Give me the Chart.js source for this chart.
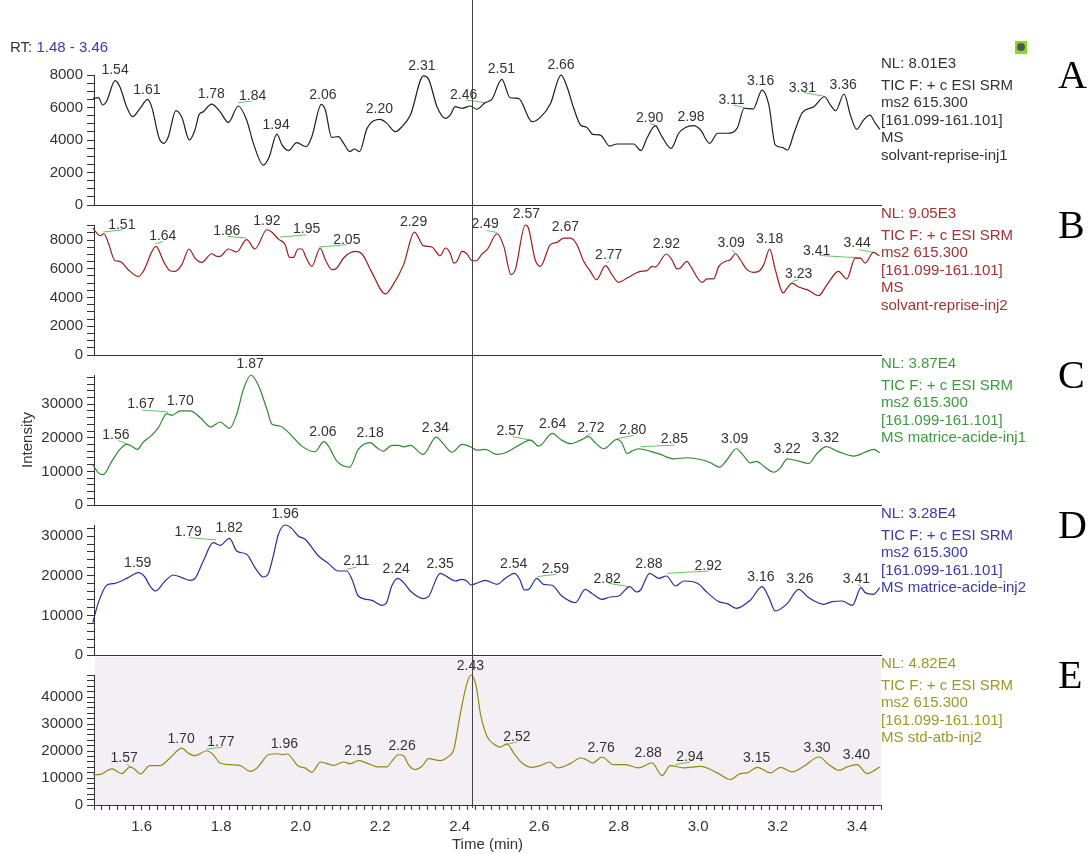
<!DOCTYPE html>
<html>
<head>
<meta charset="utf-8">
<script src="https://cdn.jsdelivr.net/npm/chart.js@4.4.0/dist/chart.umd.min.js"></script>
<style>
  body { margin: 0; background: #fff; font-family: 'Liberation Sans', Arial, sans-serif; }
  #page { position: relative; width: 1091px; height: 854px; overflow: hidden; background: #fff; }
  canvas { position: absolute; left: 0; }
  .txt { position: absolute; font-size: 15px; line-height: 18px; white-space: nowrap; }
  .tag { position: absolute; font-family: 'Liberation Serif', 'Times New Roman', serif; font-size: 40px; line-height: 40px; color: #000; }
  #icon { position: absolute; left: 1015px; top: 41px; width: 12px; height: 13px; background: #84dc1c; }
  #icon div { position: absolute; left: 2px; top: 2px; width: 8px; height: 8px; border-radius: 50%; background: #555; }
</style>
</head>
<body>
<div id="page">
  <canvas id="cA" width="1091" height="216" style="top:0px"></canvas>
  <canvas id="cB" width="1091" height="160" style="top:206px"></canvas>
  <canvas id="cC" width="1091" height="160" style="top:356px"></canvas>
  <canvas id="cD" width="1091" height="160" style="top:506px"></canvas>
  <canvas id="cE" width="1091" height="198" style="top:656px"></canvas>
  <div class="txt" style="left:10px;top:38px;color:#333">RT: <span style="color:#3a3ab0">1.48 - 3.46</span></div>
  <div id="icon"><div></div></div>
</div>
<script>
// retention time window and cursor
const xMin = 1.48
const xMax = 3.46
const cursorRt = 2.43
const xTickLabels = ['1.6', '1.8', '2.0', '2.2', '2.4', '2.6', '2.8', '3.0', '3.2', '3.4']

// A - solvant-reprise-inj1
const rtA = [1.478, 1.491, 1.502, 1.512, 1.533, 1.545, 1.562, 1.577, 1.596, 1.615, 1.625, 1.644, 1.656, 1.667, 1.686, 1.701, 1.720, 1.734, 1.744, 1.755, 1.776, 1.797, 1.818, 1.843, 1.864, 1.881, 1.906, 1.921, 1.940, 1.953, 1.969, 1.990, 2.014, 2.028, 2.052, 2.062, 2.078, 2.095, 2.108, 2.124, 2.135, 2.148, 2.167, 2.200, 2.217, 2.238, 2.255, 2.276, 2.309, 2.322, 2.343, 2.364, 2.376, 2.389, 2.406, 2.427, 2.443, 2.464, 2.481, 2.506, 2.527, 2.548, 2.582, 2.603, 2.628, 2.655, 2.670, 2.687, 2.704, 2.720, 2.735, 2.754, 2.777, 2.796, 2.814, 2.838, 2.856, 2.871, 2.892, 2.909, 2.932, 2.951, 2.968, 2.989, 3.006, 3.029, 3.049, 3.073, 3.098, 3.116, 3.138, 3.161, 3.178, 3.194, 3.211, 3.225, 3.241, 3.262, 3.291, 3.318, 3.333, 3.346, 3.367, 3.383, 3.399, 3.415, 3.432, 3.446, 3.457]
const intA = [6570, 6610, 6160, 6410, 7660, 7290, 6060, 5440, 5960, 6510, 6060, 4110, 3800, 4210, 5810, 5400, 4000, 4620, 5540, 5750, 6220, 5750, 5090, 6100, 5240, 3800, 2460, 2980, 4370, 3700, 3350, 3840, 3590, 4210, 6200, 5850, 4170, 4210, 3800, 3290, 3450, 3290, 4720, 5280, 5030, 4520, 4830, 5540, 7950, 7740, 6060, 5340, 5540, 6060, 5960, 6100, 5900, 6300, 6510, 7740, 6610, 6570, 5130, 5400, 6220, 8000, 7290, 5960, 4930, 4780, 4350, 4310, 3630, 3760, 3760, 3760, 3350, 4110, 4870, 4210, 3490, 4420, 4780, 4890, 4620, 3800, 4420, 4420, 4720, 5960, 5910, 7080, 6160, 3700, 3550, 3390, 4420, 5690, 6060, 6670, 6160, 5810, 6840, 5540, 4660, 5200, 5540, 5030, 4660]
const peaksA = [['1.54', 1.533, 8360], ['1.61', 1.613, 7130], ['1.78', 1.775, 6880], ['1.84', 1.879, 6760], ['1.94', 1.938, 4990], ['2.06', 2.056, 6820], ['2.20', 2.198, 5960], ['2.31', 2.305, 8620], ['2.46', 2.410, 6840], ['2.51', 2.505, 8420], ['2.66', 2.655, 8670], ['2.90', 2.878, 5400], ['2.98', 2.982, 5480], ['3.11', 3.084, 6530], ['3.16', 3.157, 7700], ['3.31', 3.262, 7250], ['3.36', 3.365, 7450]]
const leadA = [[1.843, 6300, 1.878, 6410], [2.417, 6470, 2.464, 6300], [2.878, 5030, 2.899, 4870], [3.090, 6160, 3.117, 5990], [3.266, 6920, 3.315, 6710]]
const infoA = ['NL: 8.01E3', 'TIC F: + c ESI SRM', 'ms2 615.300', '[161.099-161.101]', 'MS', 'solvant-reprise-inj1']

// B - solvant-reprise-inj2
const rtB = [1.477, 1.487, 1.495, 1.505, 1.516, 1.533, 1.545, 1.566, 1.592, 1.604, 1.636, 1.655, 1.671, 1.684, 1.701, 1.719, 1.734, 1.751, 1.776, 1.789, 1.797, 1.818, 1.839, 1.864, 1.885, 1.915, 1.927, 1.944, 1.961, 1.972, 1.982, 1.993, 2.003, 2.014, 2.028, 2.049, 2.062, 2.079, 2.091, 2.108, 2.137, 2.154, 2.179, 2.213, 2.230, 2.259, 2.286, 2.309, 2.330, 2.351, 2.364, 2.376, 2.385, 2.393, 2.406, 2.418, 2.431, 2.442, 2.456, 2.469, 2.494, 2.511, 2.529, 2.540, 2.565, 2.573, 2.590, 2.603, 2.628, 2.645, 2.662, 2.679, 2.695, 2.712, 2.729, 2.744, 2.767, 2.783, 2.800, 2.821, 2.855, 2.871, 2.884, 2.892, 2.920, 2.934, 2.947, 2.955, 2.972, 2.980, 3.010, 3.022, 3.039, 3.052, 3.069, 3.081, 3.094, 3.106, 3.123, 3.138, 3.152, 3.165, 3.180, 3.194, 3.214, 3.224, 3.236, 3.253, 3.278, 3.303, 3.324, 3.353, 3.374, 3.395, 3.408, 3.420, 3.441, 3.456]
const intB = [8840, 8490, 8300, 8440, 7800, 6560, 6520, 5940, 5470, 5820, 7560, 6520, 5870, 5820, 6290, 7380, 6750, 6450, 7050, 6860, 6860, 7380, 7170, 8030, 7380, 8720, 8560, 8070, 7680, 6790, 6790, 7380, 7380, 6750, 6170, 7450, 6630, 5940, 6060, 6750, 7210, 7050, 5750, 4250, 4780, 6290, 8560, 7610, 7520, 6910, 7450, 7100, 6400, 6520, 7210, 7050, 6560, 6560, 7030, 7330, 8440, 7560, 5590, 5940, 9050, 8840, 6630, 6170, 7680, 7840, 8140, 8140, 7680, 6520, 5820, 5240, 6220, 5590, 5050, 5360, 5820, 5870, 6170, 6120, 7030, 6630, 5990, 6060, 6520, 6220, 5050, 5300, 5300, 6170, 6520, 6630, 7050, 6630, 5940, 5750, 5820, 6290, 7380, 5940, 4320, 4660, 5010, 4730, 4500, 4130, 4890, 5820, 5290, 6750, 6750, 6400, 7140, 6910]
const peaksB = [['1.51', 1.550, 9140], ['1.64', 1.653, 8370], ['1.86', 1.814, 8720], ['1.92', 1.915, 9420], ['1.95', 2.015, 8840], ['2.05', 2.116, 8090], ['2.29', 2.284, 9300], ['2.49', 2.464, 9190], ['2.57', 2.568, 9880], ['2.67', 2.666, 8950], ['2.77', 2.775, 7030], ['2.92', 2.920, 7800], ['3.09', 3.083, 7870], ['3.18', 3.180, 8140], ['3.23', 3.253, 5710], ['3.41', 3.298, 7330], ['3.44', 3.400, 7870]]
const leadB = [[1.503, 8560, 1.552, 8720], [1.634, 7730, 1.654, 7910], [1.816, 8260, 1.864, 8140], [1.948, 8210, 2.015, 8370], [2.047, 7520, 2.116, 7680], [2.469, 8670, 2.494, 8530], [2.769, 6400, 2.777, 6560], [3.085, 7330, 3.094, 7100], [3.237, 5120, 3.253, 5240], [3.306, 6930, 3.408, 6750], [3.404, 7330, 3.442, 7140]]
const infoB = ['NL: 9.05E3', 'TIC F: + c ESI SRM', 'ms2 615.300', '[161.099-161.101]', 'MS', 'solvant-reprise-inj2']

// C - matrice-acide-inj1
const rtC = [1.477, 1.491, 1.503, 1.525, 1.545, 1.562, 1.572, 1.589, 1.604, 1.625, 1.642, 1.663, 1.676, 1.697, 1.722, 1.747, 1.774, 1.797, 1.821, 1.839, 1.856, 1.875, 1.894, 1.915, 1.928, 1.948, 1.978, 2.003, 2.036, 2.058, 2.070, 2.091, 2.123, 2.145, 2.175, 2.192, 2.208, 2.229, 2.246, 2.259, 2.276, 2.308, 2.341, 2.360, 2.381, 2.406, 2.427, 2.443, 2.464, 2.494, 2.515, 2.545, 2.578, 2.599, 2.633, 2.654, 2.679, 2.708, 2.724, 2.741, 2.762, 2.796, 2.808, 2.821, 2.833, 2.850, 2.879, 2.905, 2.938, 2.972, 3.006, 3.031, 3.054, 3.073, 3.096, 3.115, 3.131, 3.147, 3.165, 3.190, 3.207, 3.224, 3.253, 3.278, 3.299, 3.323, 3.350, 3.392, 3.417, 3.442, 3.457]
const intC = [12050, 9570, 9060, 13040, 16540, 18040, 17700, 16540, 18720, 20730, 23030, 27220, 26710, 28000, 28000, 26020, 23210, 24710, 22820, 27010, 34490, 38700, 35470, 28500, 24020, 23510, 20520, 17530, 15850, 18840, 17530, 13040, 11250, 16540, 18540, 17050, 16030, 17740, 17740, 17300, 17740, 15050, 20220, 18040, 15730, 18040, 17350, 16330, 16540, 15050, 15550, 17530, 19320, 17530, 21330, 19530, 18250, 19530, 20340, 18540, 16750, 19530, 18540, 15250, 16030, 16750, 16030, 15050, 13760, 14060, 13550, 12560, 11250, 13550, 16750, 14540, 12560, 13000, 11550, 9750, 11070, 13760, 13040, 12350, 15340, 17350, 16030, 14540, 15550, 16540, 15550]
const peaksC = [['1.56', 1.535, 21030], ['1.67', 1.598, 30300], ['1.70', 1.697, 31290], ['1.87', 1.873, 42260], ['2.06', 2.056, 22010], ['2.18', 2.175, 21720], ['2.34', 2.339, 23330], ['2.57', 2.527, 22220], ['2.64', 2.634, 24530], ['2.72', 2.730, 23210], ['2.80', 2.835, 22730], ['2.85', 2.940, 19830], ['3.09', 3.092, 20040], ['3.22', 3.224, 16840], ['3.32', 3.320, 20340]]
const leadC = [[1.541, 19230, 1.566, 18040], [1.600, 28300, 1.667, 27700], [2.534, 20340, 2.578, 19320], [2.716, 20340, 2.731, 21330], [2.796, 19740, 2.838, 20730], [2.855, 17350, 2.941, 17830]]
const infoC = ['NL: 3.87E4', 'TIC F: + c ESI SRM', 'ms2 615.300', '[161.099-161.101]', 'MS matrice-acide-inj1']

// D - matrice-acide-inj2
const rtD = [1.477, 1.491, 1.512, 1.533, 1.566, 1.592, 1.608, 1.621, 1.635, 1.659, 1.680, 1.701, 1.722, 1.734, 1.755, 1.780, 1.797, 1.821, 1.839, 1.864, 1.885, 1.906, 1.919, 1.931, 1.944, 1.961, 1.978, 1.994, 2.011, 2.045, 2.070, 2.095, 2.116, 2.129, 2.145, 2.179, 2.204, 2.215, 2.229, 2.244, 2.259, 2.276, 2.309, 2.322, 2.351, 2.368, 2.389, 2.406, 2.418, 2.428, 2.443, 2.464, 2.494, 2.515, 2.538, 2.551, 2.563, 2.573, 2.594, 2.611, 2.632, 2.657, 2.691, 2.716, 2.733, 2.758, 2.779, 2.800, 2.828, 2.845, 2.855, 2.878, 2.901, 2.920, 2.943, 2.964, 2.998, 3.023, 3.052, 3.073, 3.096, 3.131, 3.161, 3.178, 3.194, 3.224, 3.253, 3.278, 3.316, 3.337, 3.362, 3.388, 3.410, 3.420, 3.441, 3.457]
const intD = [8180, 13220, 17590, 18090, 19530, 20790, 19680, 17410, 16150, 18670, 20180, 19530, 18850, 19300, 23720, 28360, 27680, 29440, 26240, 25410, 22050, 19680, 20610, 24980, 30450, 32800, 31890, 30020, 29190, 24980, 23060, 21190, 21190, 19100, 14890, 13800, 12540, 13000, 17410, 19350, 18270, 16150, 14230, 14800, 20610, 19780, 18670, 19100, 18670, 17660, 18090, 18850, 17840, 19350, 20610, 19100, 16400, 16500, 19350, 17840, 17590, 14890, 13220, 16580, 15490, 14050, 14630, 14890, 17260, 15900, 16400, 20610, 19350, 19930, 17410, 18670, 18090, 15740, 13470, 12970, 11780, 13800, 17260, 14480, 11100, 12970, 16580, 14480, 12790, 13470, 13620, 12540, 17010, 15740, 15320, 17010]
const peaksD = [['1.59', 1.590, 23460], ['1.79', 1.717, 31290], ['1.82', 1.820, 32290], ['1.96', 1.961, 35750], ['2.11', 2.140, 23890], ['2.24', 2.240, 22050], ['2.35', 2.351, 23140], ['2.54', 2.536, 23310], ['2.59', 2.641, 22050], ['2.82', 2.771, 19530], ['2.88', 2.876, 23310], ['2.92', 3.025, 22630], ['3.16', 3.158, 19930], ['3.26', 3.256, 19350], ['3.41', 3.398, 19530]]
const leadD = [[1.720, 29620, 1.787, 29020], [2.116, 21620, 2.141, 22200], [2.595, 19780, 2.643, 20360], [2.775, 18090, 2.825, 17260], [2.922, 20610, 3.027, 21190], [3.402, 17840, 3.410, 17260]]
const infoD = ['NL: 3.28E4', 'TIC F: + c ESI SRM', 'ms2 615.300', '[161.099-161.101]', 'MS matrice-acide-inj2']

// E - std-atb-inj2
const rtE = [1.477, 1.493, 1.525, 1.550, 1.571, 1.583, 1.596, 1.621, 1.646, 1.671, 1.701, 1.717, 1.734, 1.764, 1.780, 1.797, 1.822, 1.848, 1.873, 1.890, 1.919, 1.940, 1.957, 1.965, 1.995, 2.011, 2.028, 2.050, 2.083, 2.108, 2.124, 2.146, 2.175, 2.196, 2.217, 2.229, 2.246, 2.259, 2.271, 2.288, 2.305, 2.322, 2.351, 2.372, 2.385, 2.401, 2.418, 2.429, 2.442, 2.452, 2.469, 2.485, 2.502, 2.519, 2.536, 2.557, 2.582, 2.603, 2.626, 2.646, 2.678, 2.704, 2.716, 2.735, 2.758, 2.787, 2.817, 2.850, 2.884, 2.909, 2.930, 2.964, 3.006, 3.048, 3.081, 3.106, 3.123, 3.149, 3.182, 3.207, 3.236, 3.266, 3.304, 3.329, 3.354, 3.375, 3.400, 3.425, 3.441, 3.457]
const intE = [11290, 11290, 13380, 11650, 14120, 13200, 11540, 14590, 14590, 17420, 21100, 19260, 18270, 20110, 18640, 15590, 14960, 14590, 12500, 13750, 18640, 19010, 18640, 19010, 14340, 13750, 12130, 15950, 14700, 15950, 15330, 16430, 15000, 14120, 14120, 16170, 18640, 18270, 14960, 13120, 14340, 17170, 16430, 18010, 20480, 33340, 45000, 48200, 43740, 34000, 25360, 22680, 21470, 22680, 19260, 15590, 13970, 14590, 15950, 13750, 15330, 17420, 17000, 15590, 17790, 14960, 14960, 13750, 15590, 10920, 14590, 13750, 14340, 11910, 9450, 11650, 11910, 13970, 11910, 13970, 12280, 14340, 17790, 14960, 12870, 14120, 14960, 11650, 12600, 14120]
const peaksE = [['1.57', 1.556, 17790], ['1.70', 1.699, 25000], ['1.77', 1.799, 23890], ['1.96', 1.959, 22940], ['2.15', 2.144, 20480], ['2.26', 2.255, 22310], ['2.43', 2.427, 52090], ['2.52', 2.544, 25730], ['2.76', 2.756, 21690], ['2.88', 2.874, 19630], ['2.94', 2.979, 18270], ['3.15', 3.147, 17790], ['3.30', 3.299, 21690], ['3.40', 3.398, 18900]]
const leadE = [[1.562, 15220, 1.571, 14120], [1.764, 20730, 1.802, 21470], [2.515, 22310, 2.544, 23420], [2.943, 14960, 2.980, 15950]]
const infoE = ['NL: 4.82E4', 'TIC F: + c ESI SRM', 'ms2 615.300', '[161.099-161.101]', 'MS std-atb-inj2']

Chart.defaults.font.family = "'Liberation Sans', Arial, sans-serif"
Chart.defaults.font.size = 15
Chart.defaults.color = '#333'

// canvases overlap by 10px so the "0" tick label of each panel is not cut off
const panels = [
  { id: 'cA', tag: 'A', rt: rtA, ints: intA, peaks: peaksA, leads: leadA, info: infoA, max: 8010, minor: 500, major: 2000, line: '#1e1e1e', text: '#333333', canvasTop: 0, top: 75 },
  { id: 'cB', tag: 'B', rt: rtB, ints: intB, peaks: peaksB, leads: leadB, info: infoB, max: 9050, minor: 500, major: 2000, line: '#9b1c1c', text: '#a33232', canvasTop: 206, top: 225 },
  { id: 'cC', tag: 'C', rt: rtC, ints: intC, peaks: peaksC, leads: leadC, info: infoC, max: 38700, minor: 2000, major: 10000, line: '#2b8a2b', text: '#3c9c3c', canvasTop: 356, top: 375, ytitle: 'Intensity' },
  { id: 'cD', tag: 'D', rt: rtD, ints: intD, peaks: peaksD, leads: leadD, info: infoD, max: 32800, minor: 2000, major: 10000, line: '#2c2c9a', text: '#3a3aa2', canvasTop: 506, top: 525 },
  { id: 'cE', tag: 'E', rt: rtE, ints: intE, peaks: peaksE, leads: leadE, info: infoE, max: 48200, minor: 2000, major: 10000, line: '#8c8c14', text: '#9a9a2a', canvasTop: 656, top: 675, last: true },
]

function leaderPoints(leads) {
  const pts = []
  leads.forEach(l => {
    pts.push({ x: l[0], y: l[1] }, { x: l[2], y: l[3] }, { x: l[2], y: null })
  })
  return pts
}

// peak labels, cursor line and the shaded last panel
function decoPlugin(p) {
  return {
    id: 'deco',
    beforeDraw(chart) {
      if (!p.last) return
      const a = chart.chartArea
      chart.ctx.save()
      chart.ctx.fillStyle = '#f4eff4'
      chart.ctx.fillRect(a.left + 1, 1, a.right - a.left - 1, a.bottom - 1)
      chart.ctx.restore()
    },
    afterDatasetsDraw(chart) {
      const ctx = chart.ctx
      const xs = chart.scales.x
      const ys = chart.scales.y
      ctx.save()
      ctx.font = "14px 'Liberation Sans', Arial, sans-serif"
      ctx.fillStyle = '#333'
      ctx.textAlign = 'center'
      ctx.textBaseline = 'alphabetic'
      p.peaks.forEach(pk => {
        ctx.fillText(pk[0], xs.getPixelForValue(pk[1]), ys.getPixelForValue(pk[2]) + 5)
      })
      ctx.restore()
    },
    afterDraw(chart) {
      const ctx = chart.ctx
      const x = Math.round(chart.scales.x.getPixelForValue(cursorRt)) + 0.5
      const yEnd = p.last ? chart.chartArea.bottom + 3 : chart.chartArea.bottom + 1
      ctx.save()
      ctx.strokeStyle = '#444'
      ctx.lineWidth = 1
      ctx.beginPath()
      ctx.moveTo(x, 0)
      ctx.lineTo(x, yEnd)
      ctx.stroke()
      ctx.restore()
    },
  }
}

function makeChart(p) {
  const el = document.getElementById(p.id)
  const yTicks = []
  for (let v = 0; v <= p.max; v += p.minor) yTicks.push(v)
  const xTicks = []
  for (let k = 74; k <= 173; k++) xTicks.push(k / 50)

  const xScale = {
    type: 'linear',
    min: xMin,
    max: xMax,
    border: { color: '#333', width: 1 },
    afterFit: s => {
      s.height = p.last ? 49 : 1
      s.paddingLeft = 0
      s.paddingRight = 0
    },
  }
  if (p.last) {
    xScale.afterBuildTicks = s => { s.ticks = xTicks.map(v => ({ value: v })) }
    xScale.ticks = {
      autoSkip: false, maxRotation: 0, minRotation: 0, padding: 8, color: '#333',
      callback: v => {
        const k = Math.round(v * 50)
        return k % 10 === 0 ? xTickLabels[(k - 80) / 10] : ''
      },
    }
    xScale.grid = { drawOnChartArea: false, drawTicks: true, tickLength: 5, tickColor: '#333' }
    xScale.title = { display: true, text: 'Time (min)', color: '#333', padding: { top: 0, bottom: 0 } }
  } else {
    xScale.ticks = { display: false }
    xScale.grid = { drawOnChartArea: false, drawTicks: false }
  }

  return new Chart(el, {
    type: 'line',
    data: {
      datasets: [
        {
          data: p.rt.map((t, i) => ({ x: t, y: p.ints[i] })),
          borderColor: p.line,
          borderWidth: 1.2,
          pointRadius: 0,
          cubicInterpolationMode: 'monotone',
          clip: false,
        },
        {
          data: leaderPoints(p.leads),
          borderColor: '#62c462',
          borderWidth: 1,
          pointRadius: 0,
          spanGaps: false,
          clip: false,
        },
      ],
    },
    options: {
      responsive: false,
      animation: false,
      devicePixelRatio: 1,
      events: [],
      layout: { padding: { left: 0, right: 210, top: p.top - p.canvasTop, bottom: p.last ? 0 : 10 } },
      plugins: { legend: { display: false }, tooltip: { enabled: false } },
      scales: {
        x: xScale,
        y: {
          min: 0,
          max: p.max,
          afterBuildTicks: s => { s.ticks = yTicks.map(v => ({ value: v })) },
          afterFit: s => {
            s.width = 94
            s.paddingTop = 0
            s.paddingBottom = 0
          },
          ticks: {
            autoSkip: false, padding: 4, color: '#333',
            callback: v => (v % p.major === 0 ? String(v) : ''),
          },
          grid: { drawOnChartArea: false, drawTicks: true, tickLength: 7, tickColor: '#333' },
          border: { color: '#333', width: 1 },
          title: p.ytitle
            ? { display: true, text: p.ytitle, color: '#333', padding: { top: 19, bottom: 0 } }
            : { display: false },
        },
      },
    },
    plugins: [decoPlugin(p)],
  })
}

const page = document.getElementById('page')
panels.forEach(p => {
  makeChart(p)
  // header text on the right of each trace
  p.info.forEach((line, i) => {
    const d = document.createElement('div')
    d.className = 'txt'
    d.style.left = '881px'
    d.style.color = p.text
    const center = i === 0 ? p.top - 12 : p.top + 9.5 + 17.6 * (i - 1)
    d.style.top = (center - 9) + 'px'
    d.textContent = line
    page.appendChild(d)
  })
  const t = document.createElement('div')
  t.className = 'tag'
  t.style.left = '1058px'
  t.style.top = (p.top - 20.5) + 'px'
  t.textContent = p.tag
  page.appendChild(t)
})
</script>
</body>
</html>
